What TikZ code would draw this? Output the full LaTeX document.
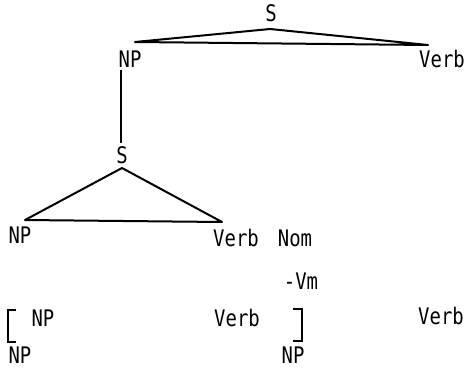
\documentclass[tikz,border=0pt]{standalone}
\usepackage{graphicx}
\usepackage{fontspec}
\setmonofont{DejaVu Sans Mono}
\newcommand{\tlab}[1]{\scalebox{0.97}[1.17]{#1}}
\begin{document}
\begin{tikzpicture}[x=1pt,y=-1pt,
  lbl/.style={font=\ttfamily\fontsize{19.5}{20}\selectfont, inner sep=0pt, text height=16.6pt, text depth=0pt, anchor=center},
  edge/.style={line width=2pt, line join=round, line cap=round},
  brk/.style={line width=2pt}]
\useasboundingbox (0,0) rectangle (470,369);
% labels
\node[lbl] (s1) at (271,13) {\tlab{S}};
\node[lbl] (np1) at (130,59) {\tlab{NP}};
\node[lbl] (vb1) at (442,59) {\tlab{Verb}};
\node[lbl] (s2) at (122,155) {\tlab{S}};
\node[lbl] (np2) at (20,235) {\tlab{NP}};
\node[lbl] (vb2) at (236,238) {\tlab{Verb}};
\node[lbl] (nom) at (295,238) {\tlab{Nom}};
\node[lbl] (vm) at (301,281) {\tlab{-Vm}};
\node[lbl] (np3) at (43,318) {\tlab{NP}};
\node[lbl] (vb3) at (237,318) {\tlab{Verb}};
\node[lbl] (vb4) at (441,316) {\tlab{Verb}};
\node[lbl] (np4) at (20,355) {\tlab{NP}};
\node[lbl] (np5) at (293,355) {\tlab{NP}};
% top triangle
\coordinate (t1a) at (270,29);
\coordinate (t1l) at (135,42);
\coordinate (t1r) at (428,45);
\draw[edge] (t1l) -- (t1a) -- (t1r) -- cycle;
% vertical line
\coordinate (v1) at (121,70);
\coordinate (v2) at (121,143);
\draw[line width=1.6pt] (v1) -- (v2);
% lower triangle
\coordinate (t2a) at (122,168);
\coordinate (t2l) at (25,220);
\coordinate (t2r) at (222,222);
\draw[edge] (t2l) -- (t2a) -- (t2r) -- cycle;
% brackets
\coordinate (bl1) at (16,310);
\coordinate (bl2) at (8,310);
\coordinate (bl3) at (8,342);
\coordinate (bl4) at (16,342);
\draw[brk] (bl1) -- (bl2) -- (bl3) -- (bl4);
\coordinate (br1) at (293,309);
\coordinate (br2) at (302,309);
\coordinate (br3) at (302,341);
\coordinate (br4) at (293,341);
\draw[brk] (br1) -- (br2) -- (br3) -- (br4);
\end{tikzpicture}
\end{document}
